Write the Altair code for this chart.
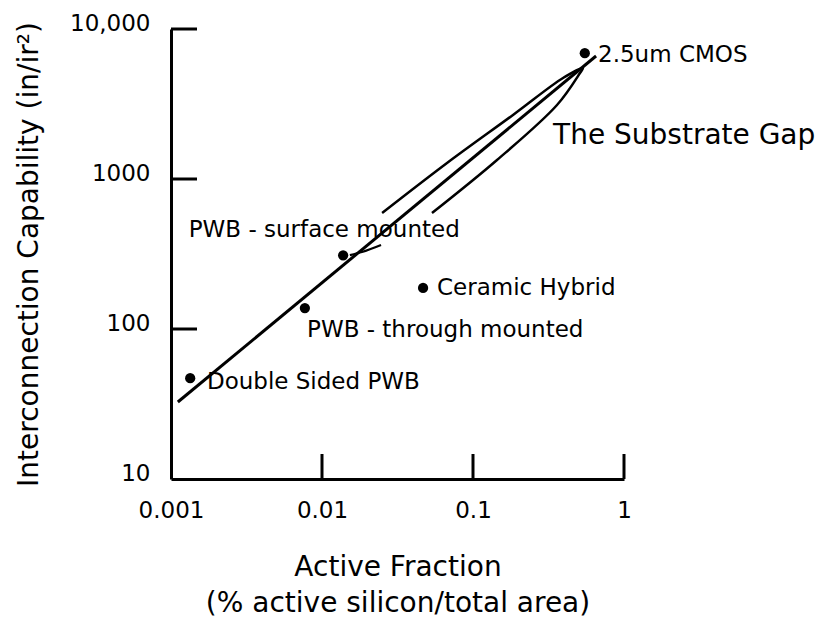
import altair as alt
import pandas as pd

# ---- data ----
point_names = ["2.5um CMOS", "PWB - surface mounted", "PWB - through mounted", "Ceramic Hybrid", "Double Sided PWB"]
point_x = [0.55, 0.0138, 0.0077, 0.0467, 0.00134]
point_y = [6900, 310, 138, 188, 47]

label_text = ["2.5um CMOS", "PWB - surface mounted", "PWB - through mounted", "Ceramic Hybrid", "Double Sided PWB"]
label_x = [0.673, 0.00131, 0.00796, 0.0578, 0.00173]
label_y = [6711, 457, 98.5, 188, 44.3]

gap_text = ["The Substrate Gap"]
gap_x = [0.339]
gap_y = [1936]

trend_x = [0.00111, 0.653]
trend_y = [32.6, 6607]

loop_x = [0.0535, 0.1442, 0.360, 0.511, 0.535, 0.3945, 0.184, 0.0673, 0.025]
loop_y = [593, 1339, 3114, 5088, 5495, 4713, 2672, 1278, 593]

arrow_x = [0.0153, 0.0184, 0.0246]
arrow_y = [311, 326, 363]

x_ticks = [0.001, 0.01, 0.1, 1]
x_tick_labels = ["0.001", "0.01", "0.1", "1"]
y_ticks = [10, 100, 1000, 10000]
y_tick_labels = ["10", "100", "1000", "10,000"]

FONT = "DejaVu Sans"

xscale = alt.Scale(type="log", domain=[0.001, 1], nice=False)
yscale = alt.Scale(type="log", domain=[10, 10000], nice=False)


def expr_for(vals, labs):
    parts = " : ".join(f"datum.value == {v} ? '{l}'" for v, l in zip(vals, labs))
    return parts + " : ''"


pts = pd.DataFrame({"name": point_names, "x": point_x, "y": point_y})
labs = pd.DataFrame({"t": label_text, "x": label_x, "y": label_y})
gap = pd.DataFrame({"t": gap_text, "x": gap_x, "y": gap_y})
trend = pd.DataFrame({"x": trend_x, "y": trend_y})
loop = pd.DataFrame({"x": loop_x, "y": loop_y, "i": list(range(len(loop_x)))})
arrow = pd.DataFrame({"x": arrow_x, "y": arrow_y, "i": list(range(len(arrow_x)))})
xt = pd.DataFrame({"v": x_ticks[1:]})
yt = pd.DataFrame({"v": y_ticks[1:]})

x_axis = alt.Axis(
    values=x_ticks, labelExpr=expr_for(x_ticks, x_tick_labels), ticks=False, tickSize=0,
    grid=False, domainColor="black", domainWidth=3, labelFont=FONT, labelFontSize=23,
    labelColor="black", labelPadding=20, labelFlush=False,
    title=["Active Fraction", "(% active silicon/total area)"], titleFont=FONT,
    titleFontSize=28, titleFontWeight="normal", titleColor="black", titleLineHeight=36,
    titleY=96, titleBaseline="alphabetic",
)
y_axis = alt.Axis(
    values=y_ticks, labelExpr=expr_for(y_ticks, y_tick_labels), ticks=False, tickSize=0,
    grid=False, domainColor="black", domainWidth=3, labelFont=FONT, labelFontSize=23,
    labelColor="black", labelPadding=21, labelFlush=False, labelOffset=-6,
    title="Interconnection Capability (in/ir²)", titleFont=FONT, titleFontSize=28,
    titleFontWeight="normal", titleColor="black", titleX=-134, titleBaseline="alphabetic",
)

points = alt.Chart(pts).mark_circle(size=105, color="black", opacity=1).encode(
    x=alt.X("x:Q", scale=xscale, axis=x_axis),
    y=alt.Y("y:Q", scale=yscale, axis=y_axis),
)

trend_line = alt.Chart(trend).mark_line(color="black", strokeWidth=3).encode(
    x=alt.X("x:Q", scale=xscale), y=alt.Y("y:Q", scale=yscale)
)

loop_line = alt.Chart(loop).mark_line(color="black", strokeWidth=2.5, interpolate="catmull-rom").encode(
    x=alt.X("x:Q", scale=xscale), y=alt.Y("y:Q", scale=yscale), order="i:O"
)

arrow_line = alt.Chart(arrow).mark_line(color="black", strokeWidth=2.2, interpolate="monotone").encode(
    x=alt.X("x:Q", scale=xscale), y=alt.Y("y:Q", scale=yscale), order="i:O"
)

xticks = alt.Chart(xt).mark_rule(color="black", strokeWidth=3).encode(
    x=alt.X("v:Q", scale=xscale), y=alt.value(450), y2=alt.value(425)
)
yticks = alt.Chart(yt).mark_rule(color="black", strokeWidth=3).encode(
    y=alt.Y("v:Q", scale=yscale), x=alt.value(0), x2=alt.value(26)
)

labels = alt.Chart(labs).mark_text(
    align="left", baseline="middle", font=FONT, fontSize=23, color="black"
).encode(x=alt.X("x:Q", scale=xscale), y=alt.Y("y:Q", scale=yscale), text="t:N")

gap_label = alt.Chart(gap).mark_text(
    align="left", baseline="middle", font=FONT, fontSize=28, color="black"
).encode(x=alt.X("x:Q", scale=xscale), y=alt.Y("y:Q", scale=yscale), text="t:N")

chart = alt.layer(
    points, trend_line, loop_line, arrow_line, xticks, yticks, labels, gap_label
).properties(
    width=453, height=450,
    padding={"left": 171, "top": 29, "right": 206, "bottom": 139},
    autosize=alt.AutoSizeParams(type="none"),
    background="white",
).configure_view(stroke=None)

chart.save("out.html", embed_options={"renderer": "svg", "actions": False})
